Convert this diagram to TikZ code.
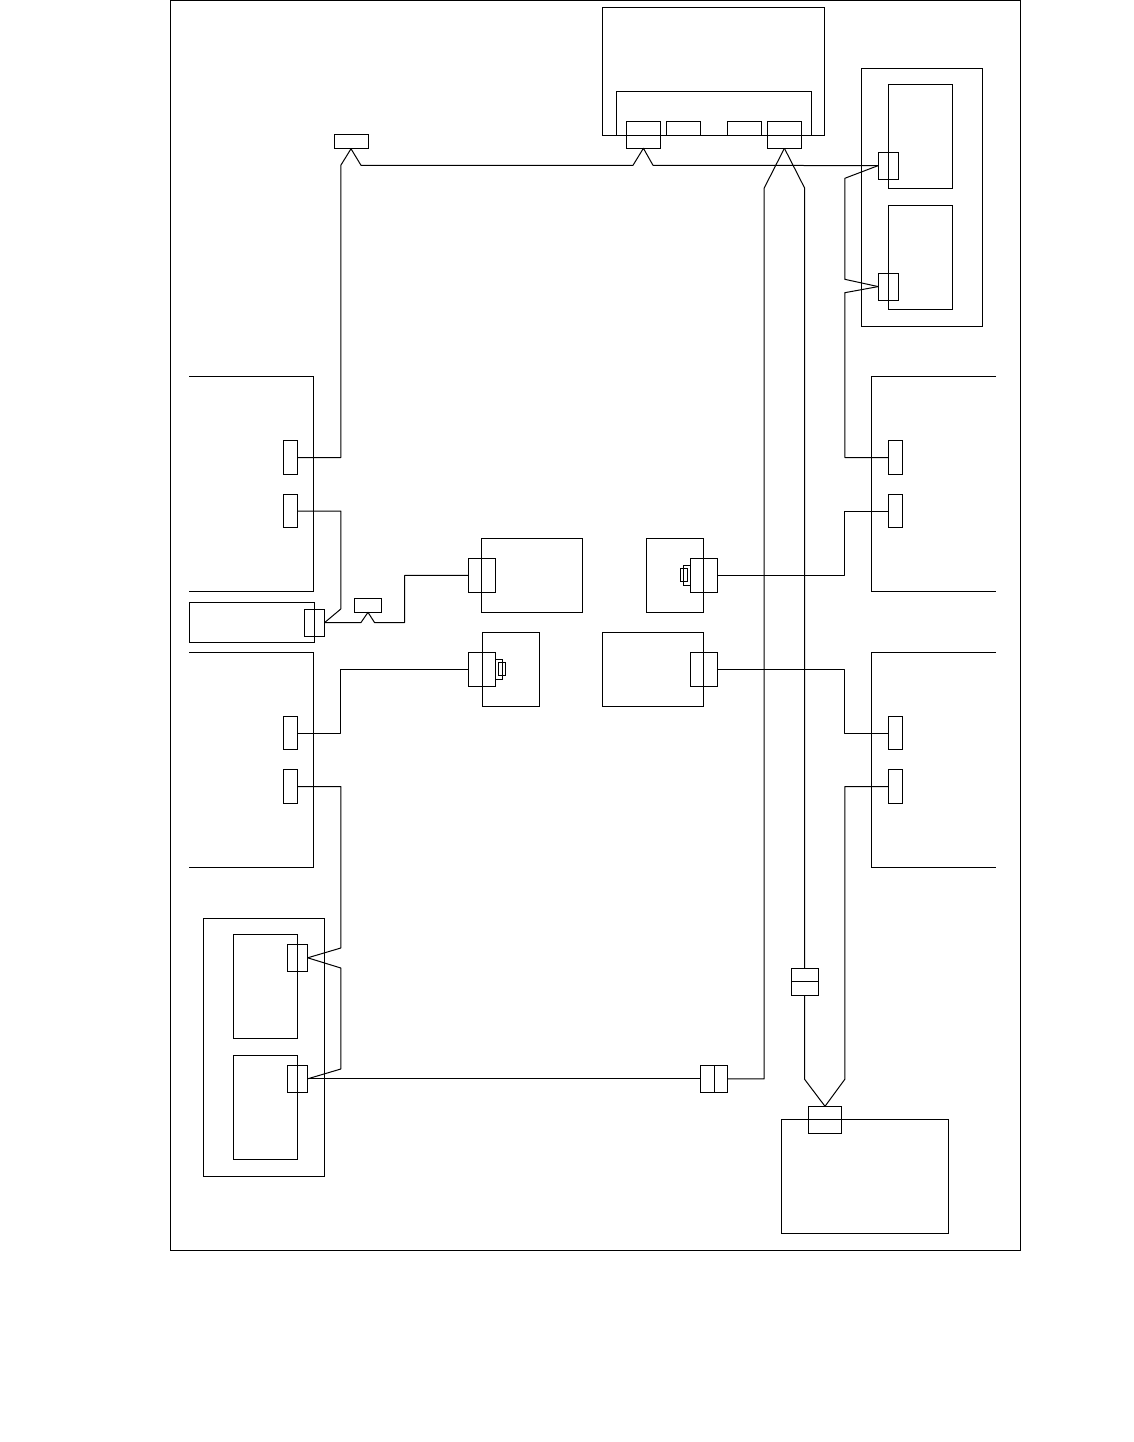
\documentclass[tikz,border=0pt]{standalone}
\usepackage{tikz}
\usetikzlibrary{positioning}
\tikzstyle{block} = [rectangle, draw=black, line width=1pt, inner sep=0pt, outer sep=0pt]
\tikzstyle{cardport} = [block, minimum width=14pt, minimum height=33.5pt]
\tikzstyle{dimmport} = [block, minimum width=20.4pt, minimum height=27pt]
\tikzstyle{plug} = [block, minimum width=27.4pt, minimum height=34pt]
\tikzstyle{widesocket} = [block, minimum width=34.2pt, minimum height=27pt]
\tikzstyle{lowsocket} = [block, minimum width=34pt, minimum height=14pt]
\tikzstyle{dimm} = [block, minimum width=64.4pt, minimum height=104pt]
\tikzstyle{cage} = [block, minimum width=121pt, minimum height=258pt]
\tikzstyle{wire} = [line width=1pt, line join=round]
\tikzstyle{frame} = [line width=1pt]

\begin{document}
\begin{tikzpicture}[x=1pt, y=-1pt]
\useasboundingbox (0,0) rectangle (1134,1442);

\node (outer) [block, minimum width=850pt, minimum height=1249.4pt] at (595,625.3) {};

% top unit
\node (topunit) [block, minimum width=221.4pt, minimum height=127.4pt] at (713.6,71.6) {};
\node (topinner) [block, minimum width=195.4pt, minimum height=44pt] at (713.8,113.3) {};
\node (topa) [widesocket] at (643.4,134.8) {};
\node (topb) [lowsocket] at (683.5,128.3) {};
\node (topc) [lowsocket] at (744.4,128.3) {};
\node (topd) [widesocket] at (784.4,134.8) {};

% right cage
\node (rcage) [cage] at (921.9,197.3) {};
\node (rdimma) [dimm] at (920.4,136.3) {};
\node (rdimmb) [dimm] at (920.4,257.3) {};
\node (rporta) [dimmport] at (888.4,165.6) {};
\node (rportb) [dimmport] at (888.4,286.6) {};

% left cage
\node (lcage) [cage] at (263.8,1047) {};
\node (ldimma) [dimm] at (265.5,986.3) {};
\node (ldimmb) [dimm] at (265.5,1107.3) {};
\node (lporta) [dimmport] at (297.5,957.8) {};
\node (lportb) [dimmport] at (297.5,1078.8) {};

% cards, open to the outside
\draw [frame] (189,376.8) -- (313.5,376.8) -- (313.5,591) -- (189,591);
\draw [frame] (189,652.5) -- (313.5,652.5) -- (313.5,867) -- (189,867);
\draw [frame] (996,376.8) -- (871.5,376.8) -- (871.5,591) -- (996,591);
\draw [frame] (996,652.5) -- (871.5,652.5) -- (871.5,867) -- (996,867);

\node (cardaa) [cardport] at (290.5,457.5) {};
\node (cardab) [cardport] at (290.5,511) {};
\node (cardba) [cardport] at (290.5,733) {};
\node (cardbb) [cardport] at (290.5,786.5) {};
\node (cardca) [cardport] at (895.5,457.5) {};
\node (cardcb) [cardport] at (895.5,511) {};
\node (cardda) [cardport] at (895.5,733) {};
\node (carddb) [cardport] at (895.5,786.5) {};

% middle boxes
\node (slim) [block, minimum width=125.4pt, minimum height=40pt] at (252,622.3) {};
\node (slimport) [dimmport] at (314.5,622.5) {};
\node (hubtop) [lowsocket] at (351,141.8) {};
\node (hubmid) [block, minimum width=27.4pt, minimum height=14pt] at (368,605.3) {};

\node (boxa) [block, minimum width=101pt, minimum height=74pt] at (532.2,575) {};
\node (boxaport) [plug] at (482,575.3) {};
\node (boxb) [block, minimum width=57.2pt, minimum height=74pt] at (510.9,669.3) {};
\node (boxbport) [plug] at (482,669.3) {};
\node (boxbjack) [block, minimum width=7.3pt, minimum height=20pt] at (499.3,669.3) {};
\node (boxbpin) [block, minimum width=7.4pt, minimum height=13.4pt] at (502,669) {};

\node (boxc) [block, minimum width=57pt, minimum height=74pt] at (674.8,575.3) {};
\node (boxcport) [plug] at (704,575.3) {};
\node (boxcjack) [block, minimum width=7pt, minimum height=20pt] at (686.8,575.2) {};
\node (boxcpin) [block, minimum width=7.4pt, minimum height=13.4pt] at (684,575) {};
\node (boxd) [block, minimum width=100.8pt, minimum height=74pt] at (652.9,669.3) {};
\node (boxdport) [plug] at (704,669.3) {};

% inline couplers and bottom unit
\node (couplh) [block, minimum width=27.4pt, minimum height=27pt] at (714,1078.8) {};
\draw [frame] (couplh.north) -- (couplh.south);
\node (couplv) [block, minimum width=27pt, minimum height=27pt] at (804.6,981.8) {};
\draw [frame] (couplv.west) -- (couplv.east);
\node (botunit) [block, minimum width=166.8pt, minimum height=114pt] at (864.7,1176.3) {};
\node (botport) [block, minimum width=33.4pt, minimum height=27pt] at (825,1119.8) {};

% top run
\draw [wire] (cardaa.east) -| (340.8,165.3) -- (hubtop.south);
\draw [wire] (hubtop.south) -- (361,165.3) -- (633,165.3) -- (topa.south) -- (653,165.3) -- (rporta.west);

% bus from top unit to bottom unit and left cage
\draw [wire] (topd.south) -- (764.2,188) -- (764.2,1078.8) -- (couplh.east);
\draw [wire] (couplh.west) -- (lportb.east);
\draw [wire] (topd.south) -- (804.6,188) -- (couplv.north);
\draw [wire] (couplv.south) -- (804.6,1079.3) -- (botport.north);

% right side
\draw [wire] (rporta.west) -- (844.8,178.3) -- (844.8,279.3) -- (rportb.west);
\draw [wire] (rportb.west) -- (844.8,292.7) |- (cardca.west);
\draw [wire] (cardcb.west) -| (844.8,575.3) -- (boxcport.east);
\draw [wire] (cardda.west) -| (844.8,669.3) -- (boxdport.east);
\draw [wire] (carddb.west) -| (844.8,1079.3) -- (botport.north);

% left side
\draw [wire] (cardab.east) -| (340.8,609) -- (slimport.east);
\draw [wire] (slimport.east) -- (361,622.5) -- (hubmid.south) -- (374.5,622.5) -| (404.7,575.3) -- (boxaport.west);
\draw [wire] (cardba.east) -| (340.8,669.3) -- (boxbport.west);
\draw [wire] (cardbb.east) -| (340.8,948) -- (lporta.east);
\draw [wire] (lporta.east) -- (340.8,968) -- (340.8,1069) -- (lportb.east);

\end{tikzpicture}
\end{document}
